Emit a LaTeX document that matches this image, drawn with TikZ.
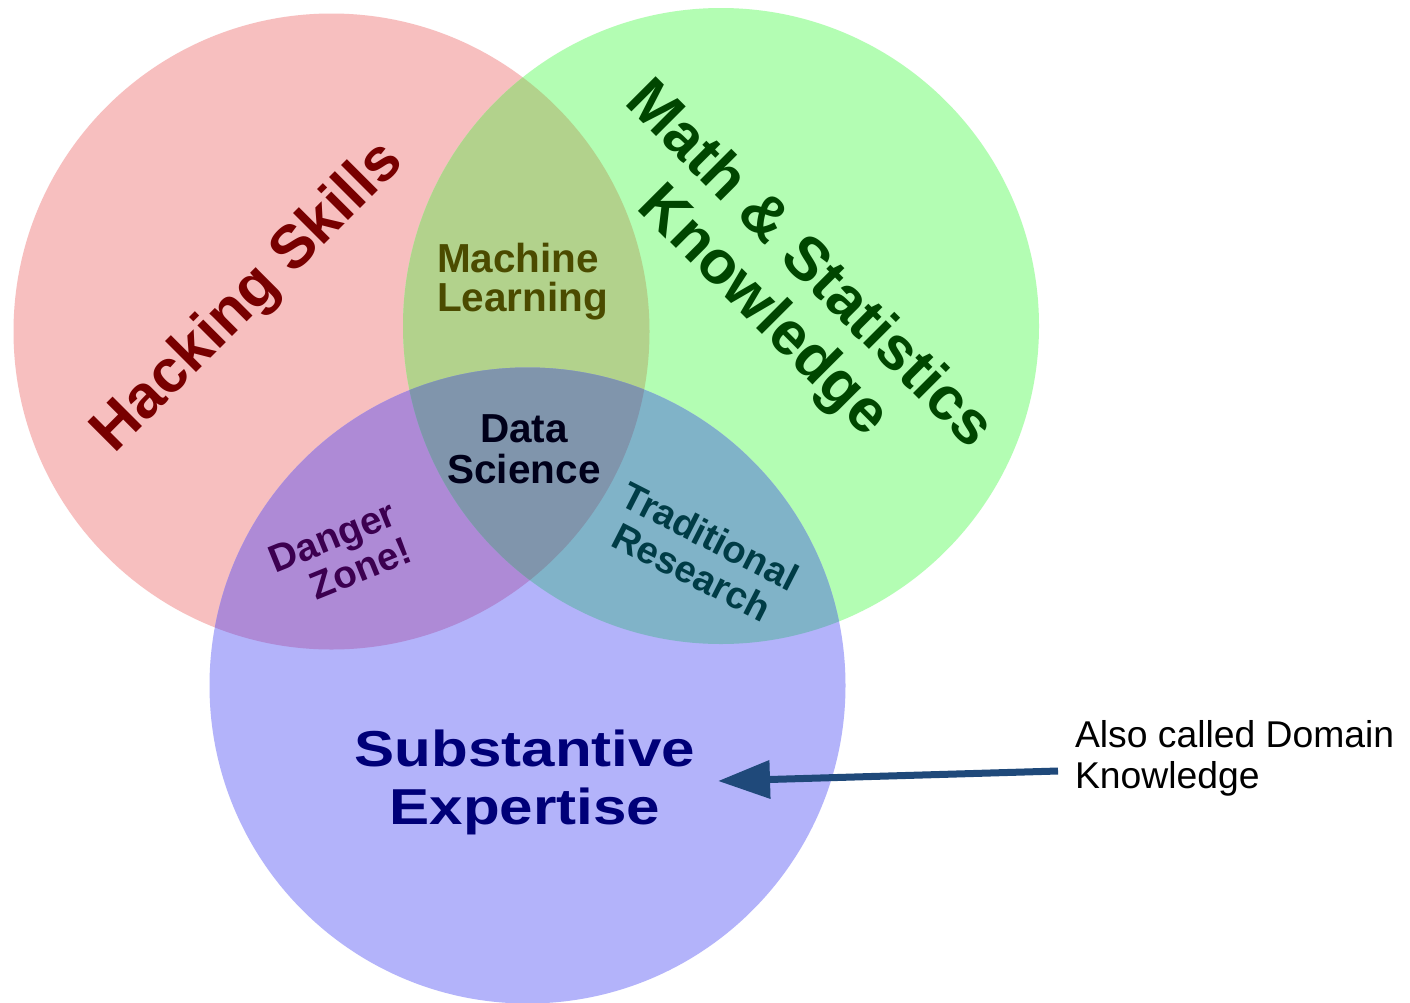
\documentclass[tikz,border=0pt]{standalone}
\usepackage{fontspec}
\setmainfont{Liberation Sans}
\newfontfamily\widesans[FakeStretch=1.19]{Liberation Sans}
\usetikzlibrary{arrows.meta}

% region fills
\definecolor{hackfill}{RGB}{247,191,191}
\definecolor{mathfill}{RGB}{179,253,179}
\definecolor{subfill}{RGB}{179,179,250}
\definecolor{mlfill}{RGB}{178,210,140}
\definecolor{dangerfill}{RGB}{174,138,214}
\definecolor{tradfill}{RGB}{128,179,200}
\definecolor{dsfill}{RGB}{128,149,172}
% label inks
\definecolor{hackink}{RGB}{120,0,0}
\definecolor{mathink}{RGB}{0,70,0}
\definecolor{mlink}{RGB}{75,75,0}
\definecolor{dsink}{RGB}{0,0,26}
\definecolor{dangerink}{RGB}{60,0,80}
\definecolor{tradink}{RGB}{0,60,70}
\definecolor{subink}{RGB}{0,0,120}
\definecolor{pointerblue}{RGB}{31,73,122}

\begin{document}
\begin{tikzpicture}[x=1pt,y=-1pt,
  lbl/.style={inner sep=0pt, outer sep=0pt},
  pointer/.style={draw=pointerblue, line width=7pt,
    -{Triangle[length=52pt,width=37pt]}}]
\useasboundingbox (0,0) rectangle (1410,1002);
\fill[white] (0,0) rectangle (1410,1002);

% circle centres
\coordinate (hc) at (331.5,331.5);
\coordinate (mc) at (721,326);
\coordinate (sc) at (527.5,685.5);
\def\R{318pt}

% single sets
\fill[hackfill] (hc) circle[radius=\R];
\fill[mathfill] (mc) circle[radius=\R];
\fill[subfill]  (sc) circle[radius=\R];

% pairwise and triple overlaps
\begin{scope}
  \clip (hc) circle[radius=\R];
  \fill[mlfill] (mc) circle[radius=\R];
  \fill[dangerfill] (sc) circle[radius=\R];
\end{scope}
\begin{scope}
  \clip (mc) circle[radius=\R];
  \fill[tradfill] (sc) circle[radius=\R];
  \clip (hc) circle[radius=\R];
  \fill[dsfill] (sc) circle[radius=\R];
\end{scope}

% set labels
\node[lbl, rotate=45, text=hackink,
  font=\fontsize{60.5}{66}\selectfont\bfseries] (hacking) at (249,298) {Hacking Skills};
\node[lbl, rotate=-45, align=center, text=mathink,
  font=\fontsize{61}{65}\selectfont\bfseries] (math) at (785,289) {Math \& Statistics\\Knowledge};
\node[lbl, align=center, text=subink,
  font=\widesans\fontsize{50.5}{58}\selectfont\bfseries] (subst) at (525,782) {Substantive\\Expertise};

% overlap labels
\node[lbl, anchor=west, align=left, text=mlink,
  font=\fontsize{40.5}{39}\selectfont\bfseries] (ml) at (437,281.5) {Machine\\Learning};
\node[lbl, align=center, text=dsink,
  font=\fontsize{40.5}{41}\selectfont\bfseries] (ds) at (524,449) {Data\\Science};
\node[lbl, rotate=22, align=right, text=dangerink,
  font=\fontsize{38.5}{40}\selectfont\bfseries] (danger) at (340,555) {Danger\\Zone!};
\node[lbl, rotate=-27, align=center, text=tradink,
  font=\fontsize{38}{40}\selectfont\bfseries] (trad) at (701,554) {Traditional\\Research};

% side note with pointer
\node[lbl, anchor=west, align=left,
  font=\fontsize{37.3}{41}\selectfont] (note) at (1075,758) {Also called Domain\\Knowledge};
\coordinate (tip) at (718,781);
\draw[pointer] ([xshift=-17pt,yshift=-13pt]note.west) -- (tip);
\end{tikzpicture}
\end{document}
